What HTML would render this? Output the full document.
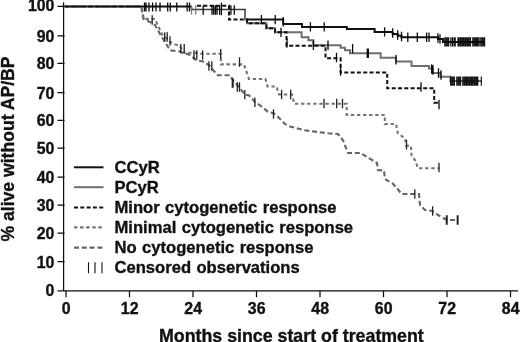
<!DOCTYPE html>
<html lang="en"><head><meta charset="utf-8"><title>Survival without AP/BP</title>
<style>html,body{margin:0;padding:0;background:#fff}body{width:520px;height:342px;position:relative;overflow:hidden}</style></head>
<body>
<svg width="520" height="342" viewBox="0 0 520 342" style="position:absolute;left:0;top:0">
<rect width="520" height="342" fill="#fff"/>
<g stroke="#0d0d0d" stroke-width="1.25" fill="none">
<path d="M63.6,2.3V291.5M57.5,290.9H518"/>
<path d="M57.5,261.5H64.5M57.5,233.1H64.5M57.5,205.2H64.5M57.5,177.2H64.5M57.5,148.1H64.5M57.5,120.4H64.5M57.5,92.7H64.5M57.5,63.3H64.5M57.5,35.8H64.5M57.5,6.4H64.5M66.0,290.9V297.3M129.5,290.9V297.3M193.0,290.9V297.3M256.5,290.9V297.3M320.0,290.9V297.3M383.5,290.9V297.3M447.0,290.9V297.3M510.5,290.9V297.3"/>
</g>
<path d="M245.8,19.6 L283.2,19.6 L283.2,23.9 L302.0,23.9 L302.0,26.9 L346.9,26.9 L346.9,29.1 L374.6,29.1 L374.6,32.0 L392.7,32.0 L392.7,31.9 L392.7,34.0 L397.7,34.0 L397.7,35.7 L401.5,35.7 L401.5,37.2 L438.0,37.2 L438.0,39.0 L443.0,39.0 L443.0,42.0 L484.5,42.0" stroke="#111" stroke-width="2" fill="none"/>
<path d="M64.5,6.5 L141.5,6.5 L142.0,13.0 L143.5,19.0 L150.0,22.0 L155.0,25.0 L160.0,34.0 L165.0,42.0 L170.0,50.3 L180.0,51.5 L183.0,52.8 L190.0,55.0 L196.0,60.0 L203.0,61.6 L209.0,65.0 L213.0,70.0 L217.7,75.2 L230.0,75.2 L232.7,80.0 L239.0,87.0 L245.0,95.0 L249.0,95.3 L255.0,102.0 L261.7,106.6 L268.0,111.7 L274.0,113.5 L278.9,117.7 L285.0,124.0 L290.0,126.5 L305.0,130.3 L328.0,133.3 L338.0,134.0 L343.0,140.3 L348.0,153.0 L360.6,153.0 L370.6,159.2 L377.0,163.0 L378.0,170.0 L384.0,170.5 L385.0,179.0 L392.7,183.6 L397.7,189.0 L401.5,194.0 L419.0,194.0 L420.0,205.0 L425.0,210.0 L432.4,211.0 L438.0,215.0 L443.0,218.0 L447.0,220.0 L457.6,220.0" stroke="#646464" stroke-width="2.1" stroke-dasharray="5 2.8" fill="none"/>
<path d="M64.5,6.5 L142.0,6.5 L142.5,13.0 L144.0,18.9 L151.0,18.9 L155.0,19.0 L160.0,30.0 L163.0,36.0 L166.0,38.0 L170.0,42.0 L174.0,44.0 L180.0,46.0 L183.0,52.8 L195.0,52.8 L201.0,53.8 L220.7,53.8 L221.0,64.4 L244.0,64.4 L249.0,79.0 L265.4,79.0 L267.5,86.5 L276.5,86.5 L279.0,94.5 L292.0,94.5 L294.4,103.8 L346.7,103.8 L346.7,115.0 L384.8,115.0 L384.8,124.0 L396.0,124.0 L397.7,133.0 L405.3,138.8 L406.0,145.6 L411.0,146.0 L411.5,155.0 L415.8,161.4 L417.8,168.2 L439.2,168.2" stroke="#747474" stroke-width="2.1" stroke-dasharray="3.4 2.7" fill="none"/>
<path d="M245.0,9.0 L245.0,19.6 L247.0,19.6 L247.0,23.3 L266.4,23.3 L266.4,28.2 L275.0,28.2 L275.0,32.2 L301.6,32.2 L301.6,37.2 L308.4,37.2 L308.4,40.2 L313.4,40.2 L313.4,45.3 L340.6,45.3 L340.6,47.8 L345.0,47.8 L345.0,50.3 L350.0,50.3 L350.0,53.3 L380.6,53.3 L380.6,57.8 L396.0,57.8 L396.0,61.6 L411.5,61.6 L411.5,66.1 L429.0,66.1 L429.0,68.4 L432.4,68.4 L432.4,73.0 L440.5,73.0 L440.5,76.7 L450.5,76.7 L450.5,81.0 L482.0,81.0" stroke="#6e6e6e" stroke-width="2" fill="none"/>
<path d="M64.5,6.5H191.5" stroke="#111" stroke-width="2" fill="none"/>
<path d="M191.5,6.5V9.5H245.8" stroke="#3c3c3c" stroke-width="1.6" fill="none"/>
<path d="M197.0,5.7 L229.0,5.7 L229.0,19.6 L247.0,19.6 L247.0,23.3 L266.4,23.3 L266.4,28.2 L275.0,28.2 L275.0,32.2 L286.5,32.2 L286.5,45.8 L325.5,45.8 L325.5,58.3 L340.6,58.3 L340.6,72.6 L387.2,72.6 L387.2,88.2 L434.2,88.2 L434.2,102.7 L439.2,102.7" stroke="#111" stroke-width="2" stroke-dasharray="4 2.3" fill="none"/>
<g stroke="#0a0a0a" stroke-width="1.3" fill="none">
<path d="M144.5,2.4V11.4M146.0,2.4V11.4M149.0,2.4V11.4M152.6,2.4V11.4M156.0,2.4V11.4M160.0,2.4V11.4M167.7,2.4V11.4M170.3,2.4V11.4M176.8,2.4V11.4M187.2,2.4V11.4M189.5,2.4V11.4"/>
<path d="M203.2,5.2V14.8M212.0,5.2V14.8M213.7,5.2V14.8M215.4,5.2V14.8M217.0,5.2V14.8M219.6,5.2V14.8M230.9,5.2V14.8M234.3,5.2V14.8"/>
<path d="M221.4,2.7V15.3"/>
<path d="M261.4,14.9V24.3M275.2,14.9V24.3M283.2,17.0V26.4M310.4,22.2V31.6M324.2,22.2V31.6M384.6,27.2V36.6M392.7,28.3V37.7M397.7,30.3V39.7M401.5,31.8V41.2M407.8,32.5V41.9M417.3,32.5V41.9M426.6,32.5V41.9M429.0,32.5V41.9M438.0,33.3V42.7M440.0,34.3V43.7"/>
<path d="M313.4,40.6V50.0M328.0,40.6V50.0M352.6,43.9V53.3M367.3,48.6V58.0M368.3,48.6V58.0M396.0,55.0V64.4M431.7,64.3V73.7M433.0,65.3V74.7M438.5,68.3V77.7M441.0,70.3V79.7"/>
<path d="M281.0,27.7V37.1M287.0,38.3V47.7M336.5,52.8V62.2M340.6,66.3V75.7M421.0,82.3V91.7M439.0,99.8V109.2"/>
<path d="M444.8,37.2V46.6M446.1,37.2V46.6M447.3,37.2V46.6M448.6,37.2V46.6M450.8,37.2V46.6M452.4,37.2V46.6M454.0,37.2V46.6M455.2,37.2V46.6M458.0,37.2V46.6M459.2,37.2V46.6M460.5,37.2V46.6M461.8,37.2V46.6M463.0,37.2V46.6M464.2,37.2V46.6M465.5,37.2V46.6M466.8,37.2V46.6M468.0,37.2V46.6M469.2,37.2V46.6M470.5,37.2V46.6M472.8,37.2V46.6M474.1,37.2V46.6M475.3,37.2V46.6M476.6,37.2V46.6M477.8,37.2V46.6M479.1,37.2V46.6M480.8,37.2V46.6M482.1,37.2V46.6M483.3,37.2V46.6M484.6,37.2V46.6" stroke-width="1.15"/>
<path d="M450.6,76.4V85.8M451.9,76.4V85.8M453.1,76.4V85.8M454.4,76.4V85.8M456.8,76.4V85.8M458.1,76.4V85.8M459.3,76.4V85.8M460.6,76.4V85.8M462.8,76.4V85.8M464.1,76.4V85.8M465.3,76.4V85.8M466.6,76.4V85.8M467.8,76.4V85.8M469.1,76.4V85.8M470.3,76.4V85.8M471.6,76.4V85.8M472.8,76.4V85.8M474.1,76.4V85.8M475.3,76.4V85.8M476.6,76.4V85.8M477.8,76.4V85.8M481.3,76.4V85.8" stroke-width="1.15"/>
</g>
<g stroke="#222" stroke-width="1.3" fill="none">
<path d="M191.5,5.4V14.6M195.7,5.4V14.6" stroke="#777"/>
<path d="M152.2,15.3V24.7M164.7,32.3V41.7M167.2,32.3V41.7M170.0,36.3V45.7M180.8,44.1V53.5M184.2,44.1V53.5M194.0,50.3V59.7M196.8,50.3V59.7M202.6,50.3V59.7M220.7,49.1V58.5M239.5,57.3V66.7M281.6,89.8V99.2M290.7,89.8V99.2M324.0,98.8V108.2M336.7,98.8V108.2M342.5,98.8V108.2M406.5,140.1V149.5M439.0,162.8V172.2"/>
<path d="M208.9,61.3V70.7M211.8,61.3V70.7M232.3,78.3V87.7M233.1,78.3V87.7M237.3,82.3V91.7M239.5,82.3V91.7M244.8,89.9V99.3M254.9,97.6V107.0M273.5,109.3V118.7M414.8,189.3V198.7M432.6,206.3V215.7M446.4,215.3V224.7M447.1,215.3V224.7M457.3,215.3V224.7M458.0,215.3V224.7"/>
</g>
<path d="M74,167.3H103.5" stroke="#111" stroke-width="2"/>
<path d="M74,187.2H103.5" stroke="#6e6e6e" stroke-width="2"/>
<path d="M74,207.5H103.5" stroke="#111" stroke-width="2" stroke-dasharray="4 2.3"/>
<path d="M74,227.4H103.5" stroke="#747474" stroke-width="2.1" stroke-dasharray="3.4 2.7"/>
<path d="M74,247.6H103.5" stroke="#646464" stroke-width="2.1" stroke-dasharray="5 2.8"/>
<path d="M88.5,262.3V273.3M95,262.3V273.3M102,262.3V273.3" stroke="#111" stroke-width="1.1"/>
<g font-family="'Liberation Sans', Arial, Helvetica, sans-serif" font-weight="bold" fill="#111" stroke="#111" stroke-width="0.35" font-size="16.6">
<text x="114.5" y="172.7" word-spacing="0.8">CCyR</text>
<text x="114.5" y="192.7" word-spacing="0.8">PCyR</text>
<text x="114.5" y="212.7" word-spacing="0.8">Minor cytogenetic response</text>
<text x="114.5" y="232.7" word-spacing="0.8">Minimal cytogenetic response</text>
<text x="114.5" y="252.7" word-spacing="0.8">No cytogenetic response</text>
<text x="114.5" y="272.7" word-spacing="0.8">Censored observations</text>
<text x="54.4" y="296.4" text-anchor="end" font-size="15.9">0</text>
<text x="54.4" y="267.5" text-anchor="end" font-size="15.9">10</text>
<text x="54.4" y="239.1" text-anchor="end" font-size="15.9">20</text>
<text x="54.4" y="211.2" text-anchor="end" font-size="15.9">30</text>
<text x="54.4" y="183.2" text-anchor="end" font-size="15.9">40</text>
<text x="54.4" y="154.1" text-anchor="end" font-size="15.9">50</text>
<text x="54.4" y="126.4" text-anchor="end" font-size="15.9">60</text>
<text x="54.4" y="98.7" text-anchor="end" font-size="15.9">70</text>
<text x="54.4" y="69.3" text-anchor="end" font-size="15.9">80</text>
<text x="54.4" y="41.8" text-anchor="end" font-size="15.9">90</text>
<text x="54.4" y="11.4" text-anchor="end" font-size="15.9">100</text>
<text x="66.2" y="313.7" text-anchor="middle" font-size="15.9">0</text>
<text x="129.7" y="313.7" text-anchor="middle" font-size="15.9">12</text>
<text x="193.2" y="313.7" text-anchor="middle" font-size="15.9">24</text>
<text x="256.7" y="313.7" text-anchor="middle" font-size="15.9">36</text>
<text x="320.2" y="313.7" text-anchor="middle" font-size="15.9">48</text>
<text x="383.7" y="313.7" text-anchor="middle" font-size="15.9">60</text>
<text x="447.2" y="313.7" text-anchor="middle" font-size="15.9">72</text>
<text x="510.7" y="313.7" text-anchor="middle" font-size="15.9">84</text>
<text x="291.4" y="341.5" text-anchor="middle" font-size="17.8">Months since start of treatment</text>
<text transform="translate(14,149) rotate(-90)" text-anchor="middle" font-size="17.6">% alive without AP/BP</text>
</g>
</svg>
</body></html>
